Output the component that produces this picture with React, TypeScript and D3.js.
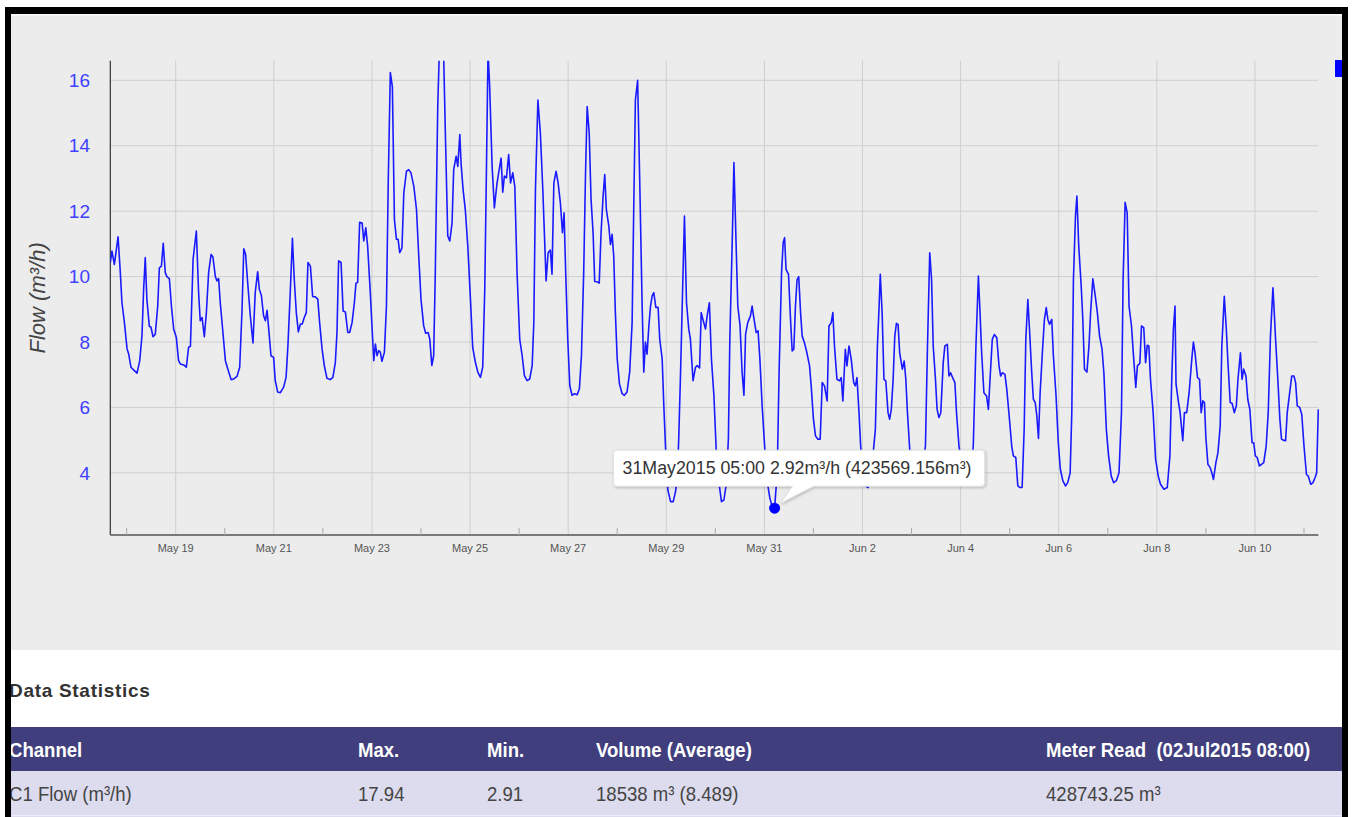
import * as d3 from 'd3'

const width = 1355
const height = 817

const plot = { left: 110.3, right: 1318.3, top: 60.7, bottom: 535 }

// readings: [hours after 17 May 2015 16:00, flow m³/h]
const startTime = new Date(2015, 4, 17, 16, 0)

const flowReadings: [number, number][] = [
  [0, 10.43], [0.8, 10.78], [2, 10.37], [3.8, 11.22], [4.9, 10.12], [5.7, 9.2], [6.9, 8.6], [8.2, 7.79],
  [9, 7.63], [10.1, 7.23], [11.4, 7.15], [13.1, 7.05], [14.4, 7.43], [15.5, 8.2], [16.3, 9.6], [17.1, 10.58],
  [17.9, 9.3], [19.1, 8.48], [19.9, 8.45], [20.9, 8.16], [22, 8.24], [23.2, 9.1], [24, 10.27], [25, 10.32],
  [25.9, 11.02], [26.9, 10.12], [27.7, 10], [28.9, 9.94], [29.9, 9.1], [31, 8.4], [32.3, 8.14], [33.4, 7.43],
  [34.3, 7.33], [35.9, 7.3], [37.2, 7.23], [38.3, 7.84], [39.2, 7.87], [40.5, 10.53], [42.1, 11.39], [43.2, 9.51],
  [44, 8.65], [44.9, 8.75], [46, 8.16], [47, 8.9], [48.1, 10.12], [49.3, 10.68], [50.2, 10.6], [51.4, 10],
  [52.2, 9.87], [53, 9.94], [53.8, 9.2], [55.1, 8.29], [56.3, 7.43], [57.6, 7.15], [59.1, 6.85], [60.4, 6.87],
  [62, 6.95], [63.3, 7.23], [64.4, 8.9], [65.3, 10.85], [66.2, 10.68], [67.2, 9.82], [68.5, 8.8], [69.8, 7.97],
  [70.9, 9.51], [72.1, 10.15], [72.9, 9.61], [73.9, 9.43], [75, 8.8], [75.9, 8.65], [76.7, 8.97], [77.5, 8.4],
  [78.6, 7.58], [79.9, 7.53], [80.7, 6.82], [81.9, 6.47], [83.2, 6.45], [84.8, 6.62], [86, 6.92], [86.9, 7.89],
  [88.1, 9.61], [89.1, 11.17], [90, 9.92], [91, 8.9], [92, 8.31], [93, 8.55], [93.9, 8.55], [94.9, 8.75],
  [95.9, 8.9], [96.7, 10.43], [97.9, 10.32], [99, 9.39], [100.3, 9.38], [101.5, 9.31], [102.4, 8.6], [103.6, 7.79],
  [104.7, 7.28], [106, 6.89], [107.6, 6.85], [108.9, 6.92], [110.1, 7.38], [110.9, 8.29], [111.7, 10.48], [112.9, 10.43],
  [113.9, 8.95], [115, 8.92], [116.2, 8.29], [117.1, 8.29], [118.3, 8.6], [119.4, 9.2], [120.2, 9.8], [121, 9.82],
  [122, 11.66], [123.2, 11.64], [124, 11.09], [125, 11.49], [125.9, 10.93], [127.2, 9.51], [128.1, 8.4], [128.9, 7.43],
  [129.7, 7.94], [130.5, 7.58], [131.3, 7.74], [132.1, 7.69], [132.9, 7.41], [134.1, 7.69], [135.1, 9.1], [136, 12.96],
  [137, 16.24], [138, 15.8], [139, 11.75], [140, 11.14], [140.8, 11.14], [141.6, 10.73], [142.7, 10.88], [143.6, 12.56],
  [144.9, 13.22], [146, 13.27], [147.1, 13.17], [148.5, 12.76], [149.8, 12.05], [150.9, 10.63], [152, 9.31], [153.3, 8.5],
  [154.3, 8.27], [155.5, 8.29], [156.3, 8.09], [157.3, 7.28], [158.2, 7.58], [159, 10.12], [160.2, 15.2], [161.3, 17.6],
  [162.2, 17.94], [163, 17.0], [164, 14.18], [165.1, 11.24], [166.1, 11.09], [167.2, 11.64], [168, 13.27], [169.2, 13.68],
  [170, 13.37], [171, 14.34], [171.6, 13.47], [172.6, 12.66], [173.7, 12.03], [174.9, 10.93], [176.2, 9.31], [177.3, 7.84],
  [178.6, 7.38], [179.8, 7.08], [181.1, 6.92], [182.2, 7.23], [183.2, 9.61], [184, 13.17], [184.8, 16.9], [185.6, 15.8],
  [186.8, 13.37], [187.9, 12.1], [189.2, 12.86], [190.4, 13.32], [191.2, 13.62], [192, 12.58], [192.8, 13.07], [193.8, 13.02],
  [194.9, 13.73], [195.8, 12.86], [196.9, 13.17], [197.9, 12.76], [199, 10.12], [200.3, 8.09], [201.5, 7.58], [202.6, 6.97],
  [203.9, 6.82], [205.2, 6.87], [206.4, 7.28], [207.2, 8.6], [208, 12.66], [209.2, 15.4], [210.4, 14.39], [211.6, 12.66],
  [212.6, 10.93], [213.2, 9.87], [214.2, 10.73], [215.3, 10.81], [216.1, 10.07], [217, 12.86], [218.1, 13.22], [219.1, 12.86],
  [220.2, 12.25], [221.2, 11.34], [222, 11.95], [222.8, 10.12], [223.8, 8.09], [224.8, 6.67], [225.9, 6.37], [227.1, 6.42],
  [228.4, 6.39], [229.5, 6.57], [230.5, 7.58], [231.6, 10.12], [232.5, 13.17], [233.3, 15.2], [234.3, 14.39], [235.2, 12.36],
  [236.2, 11.34], [237, 9.85], [238.2, 9.84], [239.2, 9.8], [240.1, 11.34], [241.1, 12.46], [241.9, 13.12], [242.7, 12.05],
  [243.9, 11.54], [244.7, 10.98], [245.5, 11.29], [246.3, 10.63], [247.1, 8.9], [248, 7.48], [249.1, 6.72], [250.4, 6.42],
  [251.5, 6.37], [252.8, 6.47], [254.1, 7.08], [255.3, 8.6], [256.1, 12.15], [256.9, 15.4], [258, 16.0], [259.1, 12.66],
  [260.2, 9.1], [261, 7.08], [261.8, 8.0], [262.6, 7.63], [263.5, 8.5], [264.3, 9.1], [265.1, 9.41], [265.9, 9.51],
  [266.9, 9.06], [268, 9.06], [268.8, 8.09], [270, 7.48], [270.8, 6.06], [271.8, 4.54], [272.8, 3.47], [274.1, 3.12],
  [275.4, 3.12], [276.5, 3.42], [277.4, 3.83], [278.1, 5.05], [279, 7.08], [279.8, 9.1], [280.9, 11.85], [281.9, 9.2],
  [283, 8.4], [283.8, 8.09], [285.1, 6.82], [286.3, 7.23], [287.1, 7.28], [288.3, 7.21], [289.1, 8.9], [290.1, 8.65],
  [291.2, 8.4], [292, 8.8], [293.1, 9.2], [294.1, 7.48], [295.3, 6.37], [296.4, 4.74], [297.7, 3.73], [299, 3.12],
  [300.2, 3.17], [301.3, 3.63], [302.4, 5.05], [303.1, 8.09], [304.3, 11.14], [305.1, 13.49], [306.1, 11.14], [307, 9.1],
  [308.1, 8.5], [309.1, 7.08], [310, 6.37], [310.8, 8.24], [311.9, 8.6], [313.2, 8.8], [314, 9.1], [314.8, 8.75],
  [316, 8.29], [316.9, 8.34], [317.8, 7.48], [318.9, 6.06], [320.1, 4.84], [321.4, 3.73], [322.7, 3.22], [323.8, 2.98],
  [325, 2.92], [326.3, 4.03], [327.2, 7.08], [328.4, 10.12], [329.2, 11.04], [329.9, 11.19], [330.6, 10.22], [331.8, 10.07],
  [332.8, 8.69], [333.6, 7.73], [334.4, 7.78], [335.2, 9.1], [336, 9.91], [336.8, 10], [337.7, 8.9], [338.5, 8.18],
  [339.6, 7.98], [340.8, 7.67], [342.1, 7.27], [342.9, 6.66], [344, 5.64], [345, 5.13], [346.2, 5.03], [347.3, 5.03],
  [348.3, 6.76], [349.4, 6.66], [350.7, 6.2], [351.6, 8.49], [352.7, 8.59], [353.5, 8.9], [354.3, 7.88], [355.5, 6.86],
  [356.8, 6.81], [357.6, 6.91], [358.4, 6.2], [359.6, 7.78], [360.4, 7.27], [361.4, 7.88], [362.5, 7.47], [363.7, 6.76],
  [364.5, 6.66], [365.3, 6.91], [366.3, 5.84], [367.1, 4.82], [368.2, 4], [369.5, 3.6], [370.7, 3.55], [371.8, 4],
  [373.1, 4.52], [374.3, 5.33], [375.3, 7.88], [376.1, 9.05], [376.7, 10.07], [377.6, 8.9], [378.5, 6.86], [379.4, 6.81],
  [380.5, 5.84], [381.3, 5.64], [382.1, 5.94], [383, 6.86], [383.8, 8.18], [384.6, 8.57], [385.4, 8.54], [386.2, 7.67],
  [387.5, 7.17], [388.4, 7.42], [389.2, 6.86], [390, 5.84], [391.1, 4.72], [393, 3.9], [395, 3.75], [397, 4.0],
  [398.8, 4.82], [399.8, 7.88], [400.9, 10.73], [401.8, 9.91], [402.6, 7.88], [403.7, 6.86], [404.5, 5.94], [405.4, 5.69],
  [406.3, 5.84], [407.5, 7.37], [408.3, 7.88], [409.5, 7.93], [410.3, 6.96], [411.1, 7.06], [412.1, 6.91], [413.2, 6.76],
  [414, 5.84], [415.2, 4.82], [417.3, 4.0], [419.3, 3.8], [421, 4.1], [422.2, 4.82], [423.5, 7.88], [424.7, 10.02],
  [425.5, 8.9], [426.3, 7.67], [427.4, 6.45], [428.7, 6.35], [429.6, 5.94], [430.4, 6.86], [431.5, 8.08], [432.5, 8.23],
  [433.7, 8.13], [434.8, 7.27], [435.6, 6.96], [436.4, 7.06], [437.7, 7.01], [438.6, 6.55], [439.9, 5.64], [441, 4.82],
  [441.8, 4.52], [443, 4.47], [444, 3.6], [445.1, 3.55], [446.1, 3.55], [447.1, 5.33], [447.9, 8.08], [448.9, 9.3],
  [449.7, 8.39], [450.8, 7.06], [451.6, 6.25], [452.5, 6.15], [453.3, 5.74], [454.1, 5.05], [454.9, 6.45], [456.1, 7.78],
  [457, 8.69], [457.9, 9.05], [458.7, 8.69], [459.5, 8.54], [460.6, 8.69], [461.4, 7.57], [462.7, 6.35], [463.8, 4.92],
  [464.8, 4.11], [466, 3.76], [467.3, 3.6], [468.4, 3.7], [469.6, 4], [470.4, 5.84], [471.2, 9.91], [472.2, 11.85],
  [472.9, 12.46], [473.8, 10.93], [475, 9.71], [475.8, 8.69], [476.6, 7.17], [477.8, 7.08], [478.8, 7.88], [479.6, 8.9],
  [480.7, 9.93], [481.9, 9.4], [482.9, 8.9], [484, 8.18], [485.2, 7.78], [486.1, 7.06], [487.3, 5.33], [488.4, 4.52],
  [489.7, 3.9], [490.9, 3.7], [492.2, 3.76], [493.5, 4], [494.7, 5.84], [495.5, 9.91], [496.5, 12.27], [497.5, 11.95],
  [498.4, 9.1], [499.6, 8.49], [500.6, 7.57], [501.7, 6.61], [502.5, 7.27], [503.7, 7.35], [504.5, 8.49], [505.6, 8.44],
  [506.5, 7.37], [507.3, 7.9], [508.1, 7.88], [508.9, 6.86], [510.2, 5.84], [511.4, 4.42], [512.7, 3.9], [513.8, 3.65],
  [515.5, 3.5], [517.1, 3.55], [518.4, 4.52], [519.3, 6.86], [520.1, 8.39], [520.9, 9.1], [521.4, 6.71], [522.5, 6.2],
  [523.4, 5.84], [524.7, 4.98], [525.5, 5.84], [526.6, 5.84], [527.8, 6.45], [529.1, 7.47], [529.9, 8], [530.7, 7.67],
  [531.9, 6.91], [532.9, 6.86], [533.7, 5.84], [534.5, 6.2], [535.3, 6.15], [536, 5.08], [537, 4.26], [538.1, 4.16],
  [538.9, 4], [539.7, 3.8], [540.9, 4.31], [541.9, 4.62], [543, 5.43], [543.8, 7.88], [545, 9.4], [546, 8.39],
  [546.8, 7.37], [547.9, 6.15], [548.8, 6.13], [549.9, 5.84], [550.9, 6.05], [551.7, 6.86], [552.9, 7.67], [553.7, 6.86],
  [554.5, 7.17], [555.6, 6.96], [556.5, 6.25], [557.5, 5.94], [558.6, 4.92], [559.4, 4.92], [560.2, 4.52], [561.1, 4.47],
  [562.2, 4.21], [563.2, 4.26], [564.3, 4.31], [565.5, 4.82], [566.5, 5.84], [567.6, 8.18], [568.8, 9.66], [569.3, 9.1],
  [570.1, 8.08], [571.2, 6.86], [572.2, 5.64], [573, 5.03], [573.8, 5], [575, 4.98], [575.8, 5.84], [577, 6.45],
  [578, 6.96], [579.1, 6.96], [579.9, 6.76], [580.7, 6.05], [581.9, 6], [582.9, 5.79], [584, 4.82], [585.2, 3.95],
  [586.1, 3.9], [587.3, 3.65], [588.4, 3.7], [589.4, 3.85], [590.2, 4.0], [591, 5.94],
]

const yTicks = [4, 6, 8, 10, 12, 14, 16]
const yDomain = [2.1, 16.6]
const yAxisTitle = 'Flow (m³/h)'

// tooltip shown on the minimum reading
const tooltipHour = 325
const tooltipVolume = '423569.156m³'

const statHeaders = ['Channel', 'Max.', 'Min.', 'Volume (Average)', 'Meter Read  (02Jul2015 08:00)']
const statValues = ['C1 Flow (m³/h)', '17.94', '2.91', '18538 m³ (8.489)', '428743.25 m³']
const statColumnX = [9, 358, 487, 596, 1046]

const hourMs = 3600 * 1000
const toDate = (h: number) => new Date(startTime.getTime() + h * hourMs)

const App = () => {
  const data = flowReadings.map(([h, v]) => ({ date: toDate(h), value: v }))

  const xScale = d3
    .scaleTime()
    .domain(d3.extent(data, (d) => d.date) as [Date, Date])
    .range([plot.left, plot.right])

  const yScale = d3.scaleLinear().domain(yDomain).range([plot.bottom, plot.top])

  const [, end] = xScale.domain()
  const majorDays = d3.timeDay.range(new Date(2015, 4, 19), end).filter((d, i) => i % 2 === 0)
  const minorDays = d3.timeDay.range(new Date(2015, 4, 18), end).filter((d, i) => i % 2 === 0)
  const dayLabel = d3.timeFormat('%b %-d')

  const linePath = d3
    .line<{ date: Date; value: number }>()
    .x((d) => xScale(d.date))
    .y((d) => yScale(d.value))(data)

  const tipDatum = data.find((d) => Math.abs(d.date.getTime() - toDate(tooltipHour).getTime()) < 1000)!
  const px = xScale(tipDatum.date)
  const py = yScale(tipDatum.value)
  const tipText = `${d3.timeFormat('%d%b%Y %H:%M')(tipDatum.date)} ${tipDatum.value.toFixed(2)}m³/h (${tooltipVolume})`
  const boxL = px - 161
  const boxR = px + 210
  const boxT = py - 58
  const boxB = py - 22
  const tipPath = `M${boxL + 3},${boxT} H${boxR - 3} Q${boxR},${boxT} ${boxR},${boxT + 3} V${boxB - 3} Q${boxR},${boxB} ${boxR - 3},${boxB} H${px + 39} L${px + 6},${py - 5} L${px + 18},${boxB} H${boxL + 3} Q${boxL},${boxB} ${boxL},${boxB - 3} V${boxT + 3} Q${boxL},${boxT} ${boxL + 3},${boxT} Z`

  const sans = "'Liberation Sans', Arial, sans-serif"
  // table text is a condensed face; squeeze Liberation Sans horizontally
  const squeeze = 0.885

  return (
    <div style={{ position: 'absolute', left: 0, top: 0 }}>
      <svg width={width} height={height} style={{ display: 'block' }}>
        <defs>
          <clipPath id="plot-clip">
            <rect x={plot.left} y={plot.top} width={plot.right - plot.left + 1} height={plot.bottom - plot.top} />
          </clipPath>
          <filter id="tip-shadow" x="-10%" y="-30%" width="120%" height="180%">
            <feDropShadow dx="1" dy="1" stdDeviation="1.5" floodColor="#000" floodOpacity="0.25" />
          </filter>
        </defs>

        <rect x={0} y={0} width={width} height={height} fill="#ffffff" />
        <rect x={11} y={14} width={1331} height={636} fill="#ececec" />
        <rect x={11} y={14} width={1331} height={2} fill="#f6f6f6" />

        {/* grid */}
        {yTicks.map((t) => (
          <line key={`h${t}`} x1={plot.left} x2={plot.right} y1={yScale(t)} y2={yScale(t)} stroke="#cfcfcf" strokeWidth={1} />
        ))}
        {majorDays.map((d) => (
          <line key={`v${+d}`} x1={xScale(d)} x2={xScale(d)} y1={plot.top} y2={plot.bottom} stroke="#cfcfcf" strokeWidth={1} />
        ))}

        {/* axes */}
        <line x1={plot.left} x2={plot.left} y1={plot.top} y2={plot.bottom} stroke="#333" strokeWidth={1.2} />
        <line x1={plot.left} x2={plot.right} y1={plot.bottom} y2={plot.bottom} stroke="#555" strokeWidth={1.6} />
        {minorDays.map((d) => (
          <line key={`m${+d}`} x1={xScale(d)} x2={xScale(d)} y1={plot.bottom - 7} y2={plot.bottom} stroke="#aaa" strokeWidth={1} />
        ))}
        {majorDays.map((d) => (
          <text key={`l${+d}`} x={xScale(d)} y={plot.bottom + 17} textAnchor="middle" fontFamily={sans} fontSize={11} fill="#555">
            {dayLabel(d)}
          </text>
        ))}
        {yTicks.map((t) => (
          <text key={`y${t}`} x={90} y={yScale(t)} dy="0.35em" textAnchor="end" fontFamily={sans} fontSize={19} fill="#4040ff">
            {t}
          </text>
        ))}
        <text
          transform={`translate(45,${(plot.top + plot.bottom) / 2}) rotate(-90)`}
          textAnchor="middle"
          fontFamily={sans}
          fontStyle="italic"
          fontSize={22}
          fill="#444"
        >
          {yAxisTitle}
        </text>

        {/* series */}
        <g clipPath="url(#plot-clip)">
          <path d={linePath ?? ''} fill="none" stroke="#1a1aff" strokeWidth={1.6} strokeLinejoin="round" />
        </g>

        <rect x={1335} y={60} width={7} height={17} fill="#0000ff" />

        {/* tooltip */}
        <path d={tipPath} fill="#ffffff" stroke="#e2e2e2" strokeWidth={1} filter="url(#tip-shadow)" />
        <text x={boxL + 9} y={boxT + 24} fontFamily={sans} fontSize={17.8} fill="#333">
          {tipText}
        </text>
        <circle cx={px} cy={py} r={5.5} fill="#0000ff" />

        {/* statistics */}
        <text x={9} y={697} fontFamily={sans} fontWeight="bold" fontSize={19} fill="#333" letterSpacing={0.7}>
          Data Statistics
        </text>
        <rect x={11} y={727} width={1331} height={44} fill="#403e7c" />
        <rect x={11} y={771} width={1331} height={46} fill="#dddcee" />
        <line x1={11} x2={1342} y1={815.5} y2={815.5} stroke="#eeeef8" strokeWidth={1} />
        {statHeaders.map((h, i) => (
          <text
            key={h}
            transform={`translate(${statColumnX[i]},757) scale(${squeeze},1)`}
            fontFamily={sans}
            fontWeight="bold"
            fontSize={21}
            fill="#ffffff"
            style={{ whiteSpace: 'pre' }}
          >
            {h}
          </text>
        ))}
        {statValues.map((v, i) => (
          <text
            key={v}
            transform={`translate(${statColumnX[i]},801) scale(${squeeze},1)`}
            fontFamily={sans}
            fontSize={21}
            fill="#444"
            style={{ whiteSpace: 'pre' }}
          >
            {v}
          </text>
        ))}

        {/* frame */}
        <rect x={5} y={7} width={1343} height={7} fill="#000" rx={2} />
        <rect x={5} y={7} width={6} height={height - 7} fill="#000" />
        <rect x={1342} y={7} width={6} height={height - 7} fill="#000" />
      </svg>
    </div>
  )
}

export default App
